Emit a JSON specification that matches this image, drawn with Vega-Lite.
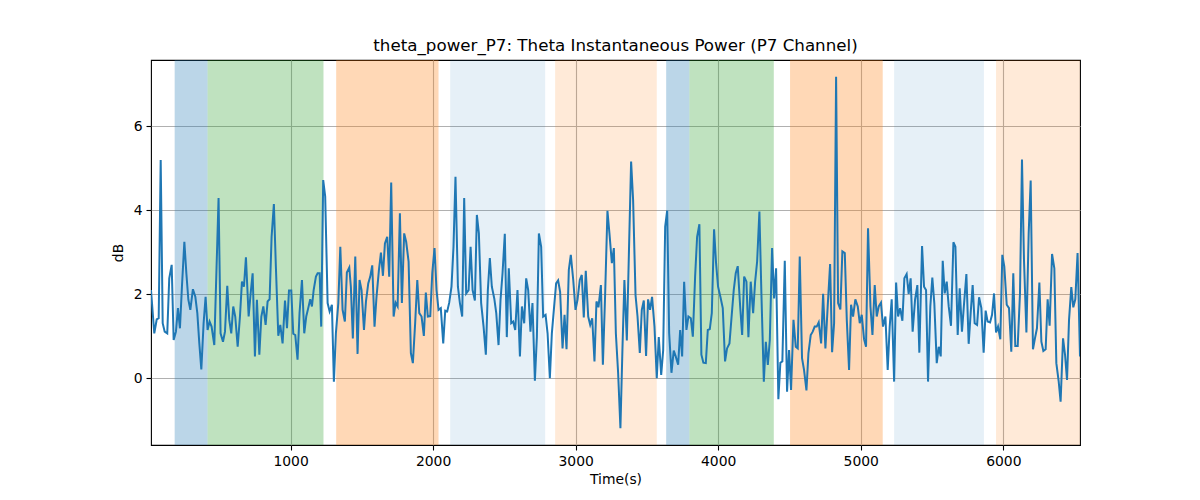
{
  "$schema": "https://vega.github.io/schema/vega-lite/v6.json",
  "width": 929,
  "height": 385,
  "autosize": {"type": "none"},
  "padding": {"left": 151, "top": 60, "right": 120, "bottom": 55},
  "title": {
    "text": "theta_power_P7: Theta Instantaneous Power (P7 Channel)",
    "font": "DejaVu Sans",
    "fontSize": 16.7,
    "fontWeight": "normal",
    "color": "black",
    "anchor": "middle",
    "baseline": "alphabetic",
    "offset": -8
  },
  "config": {
    "view": {"stroke": "black", "strokeWidth": 1.1},
    "axis": {
      "domain": false,
      "grid": true,
      "gridColor": "#b0b0b0",
      "gridWidth": 1.1,
      "tickColor": "black",
      "tickSize": 5,
      "tickWidth": 1.1,
      "labelFont": "DejaVu Sans",
      "labelFontSize": 13.9,
      "labelColor": "black",
      "labelPadding": 4,
      "titleFont": "DejaVu Sans",
      "titleFontSize": 13.9,
      "titleFontWeight": "normal",
      "titleColor": "black"
    }
  },
  "datasets": {
    "bands": [
      {"start": 187, "end": 418, "segment": "A"},
      {"start": 418, "end": 1231, "segment": "B"},
      {"start": 1320, "end": 2038, "segment": "C"},
      {"start": 2120, "end": 2786, "segment": "D"},
      {"start": 2856, "end": 3569, "segment": "E"},
      {"start": 3635, "end": 3798, "segment": "A"},
      {"start": 3798, "end": 4390, "segment": "B"},
      {"start": 4504, "end": 5154, "segment": "C"},
      {"start": 5234, "end": 5864, "segment": "D"},
      {"start": 5949, "end": 6538, "segment": "E"}
    ],
    "series": [
      {"time": 21, "db": 2.10}, {"time": 44, "db": 1.07}, {"time": 61, "db": 1.40}, {"time": 75, "db": 1.43},
      {"time": 89, "db": 5.20}, {"time": 103, "db": 1.31}, {"time": 117, "db": 1.11}, {"time": 135, "db": 1.07},
      {"time": 149, "db": 2.38}, {"time": 166, "db": 2.70}, {"time": 180, "db": 0.91}, {"time": 196, "db": 1.11},
      {"time": 210, "db": 1.67}, {"time": 224, "db": 1.19}, {"time": 238, "db": 2.18}, {"time": 255, "db": 3.25},
      {"time": 269, "db": 2.50}, {"time": 283, "db": 1.87}, {"time": 297, "db": 1.63}, {"time": 315, "db": 2.12},
      {"time": 332, "db": 1.94}, {"time": 346, "db": 1.55}, {"time": 360, "db": 0.83}, {"time": 374, "db": 0.21},
      {"time": 390, "db": 1.31}, {"time": 404, "db": 1.94}, {"time": 418, "db": 1.15}, {"time": 432, "db": 1.35},
      {"time": 446, "db": 1.23}, {"time": 465, "db": 0.79}, {"time": 481, "db": 2.66}, {"time": 495, "db": 4.29},
      {"time": 509, "db": 1.07}, {"time": 526, "db": 0.87}, {"time": 540, "db": 1.11}, {"time": 556, "db": 2.20},
      {"time": 570, "db": 1.39}, {"time": 584, "db": 1.07}, {"time": 598, "db": 1.71}, {"time": 612, "db": 1.47},
      {"time": 629, "db": 0.75}, {"time": 645, "db": 1.47}, {"time": 659, "db": 2.30}, {"time": 673, "db": 2.18},
      {"time": 687, "db": 2.88}, {"time": 706, "db": 1.47}, {"time": 720, "db": 2.02}, {"time": 734, "db": 2.50},
      {"time": 750, "db": 0.52}, {"time": 764, "db": 1.87}, {"time": 781, "db": 0.56}, {"time": 795, "db": 1.47},
      {"time": 809, "db": 1.71}, {"time": 825, "db": 1.27}, {"time": 839, "db": 1.83}, {"time": 853, "db": 1.88},
      {"time": 867, "db": 3.37}, {"time": 883, "db": 4.15}, {"time": 897, "db": 2.66}, {"time": 914, "db": 1.01},
      {"time": 928, "db": 1.27}, {"time": 944, "db": 0.83}, {"time": 961, "db": 1.85}, {"time": 975, "db": 1.19},
      {"time": 989, "db": 2.09}, {"time": 1005, "db": 2.09}, {"time": 1019, "db": 1.06}, {"time": 1033, "db": 1.03},
      {"time": 1049, "db": 0.44}, {"time": 1063, "db": 1.55}, {"time": 1080, "db": 2.34},
      {"time": 1096, "db": 1.07}, {"time": 1110, "db": 1.47}, {"time": 1124, "db": 1.67}, {"time": 1138, "db": 1.88},
      {"time": 1150, "db": 1.71}, {"time": 1162, "db": 2.10}, {"time": 1178, "db": 2.42}, {"time": 1190, "db": 2.50},
      {"time": 1204, "db": 2.50}, {"time": 1215, "db": 1.23}, {"time": 1229, "db": 4.72}, {"time": 1243, "db": 4.33},
      {"time": 1260, "db": 1.79}, {"time": 1274, "db": 1.59}, {"time": 1290, "db": 1.75}, {"time": 1304, "db": -0.08},
      {"time": 1318, "db": 1.07}, {"time": 1335, "db": 1.79}, {"time": 1349, "db": 3.13}, {"time": 1365, "db": 1.63},
      {"time": 1381, "db": 1.35}, {"time": 1395, "db": 2.52}, {"time": 1412, "db": 2.64}, {"time": 1423, "db": 2.18},
      {"time": 1437, "db": 0.95}, {"time": 1454, "db": 2.90}, {"time": 1470, "db": 0.58}, {"time": 1484, "db": 2.34},
      {"time": 1498, "db": 2.10}, {"time": 1515, "db": 1.15}, {"time": 1529, "db": 1.83}, {"time": 1545, "db": 2.26},
      {"time": 1559, "db": 2.42}, {"time": 1573, "db": 2.69}, {"time": 1589, "db": 1.23}, {"time": 1603, "db": 1.94},
      {"time": 1620, "db": 2.58}, {"time": 1634, "db": 2.99}, {"time": 1648, "db": 2.44}, {"time": 1662, "db": 3.21},
      {"time": 1678, "db": 3.37}, {"time": 1692, "db": 2.42}, {"time": 1706, "db": 4.66}, {"time": 1723, "db": 1.47},
      {"time": 1737, "db": 1.80}, {"time": 1751, "db": 1.71}, {"time": 1767, "db": 3.93}, {"time": 1781, "db": 1.79},
      {"time": 1797, "db": 3.45}, {"time": 1811, "db": 3.25}, {"time": 1828, "db": 2.78}, {"time": 1844, "db": 0.60},
      {"time": 1858, "db": 0.36}, {"time": 1874, "db": 1.31}, {"time": 1889, "db": 2.34}, {"time": 1903, "db": 1.55},
      {"time": 1919, "db": 1.47}, {"time": 1935, "db": 1.01}, {"time": 1949, "db": 2.04}, {"time": 1963, "db": 1.47},
      {"time": 1980, "db": 1.48}, {"time": 1994, "db": 2.50}, {"time": 2010, "db": 3.10}, {"time": 2024, "db": 2.10},
      {"time": 2038, "db": 1.63}, {"time": 2054, "db": 1.67}, {"time": 2071, "db": 0.83}, {"time": 2085, "db": 1.61},
      {"time": 2099, "db": 1.59}, {"time": 2113, "db": 1.80}, {"time": 2129, "db": 2.18}, {"time": 2143, "db": 3.13},
      {"time": 2157, "db": 4.80},
      {"time": 2174, "db": 2.18}, {"time": 2188, "db": 1.79}, {"time": 2204, "db": 1.47}, {"time": 2218, "db": 4.29},
      {"time": 2232, "db": 2.02}, {"time": 2249, "db": 2.10}, {"time": 2263, "db": 3.13}, {"time": 2277, "db": 2.10},
      {"time": 2293, "db": 1.85}, {"time": 2307, "db": 3.89}, {"time": 2321, "db": 3.45}, {"time": 2337, "db": 1.79},
      {"time": 2354, "db": 1.23}, {"time": 2370, "db": 0.56}, {"time": 2384, "db": 2.10}, {"time": 2398, "db": 2.86},
      {"time": 2412, "db": 2.18}, {"time": 2429, "db": 1.90}, {"time": 2443, "db": 1.55}, {"time": 2459, "db": 0.79},
      {"time": 2473, "db": 1.87}, {"time": 2487, "db": 2.50}, {"time": 2503, "db": 3.44}, {"time": 2517, "db": 0.98},
      {"time": 2531, "db": 2.62}, {"time": 2548, "db": 1.31}, {"time": 2562, "db": 1.35}, {"time": 2576, "db": 1.15},
      {"time": 2592, "db": 2.10}, {"time": 2609, "db": 0.52}, {"time": 2623, "db": 1.71}, {"time": 2639, "db": 1.31},
      {"time": 2653, "db": 2.38}, {"time": 2667, "db": 2.10}, {"time": 2683, "db": 1.11}, {"time": 2697, "db": 1.79},
      {"time": 2714, "db": -0.06}, {"time": 2728, "db": 0.99}, {"time": 2742, "db": 3.45}, {"time": 2758, "db": 3.13},
      {"time": 2772, "db": 1.47}, {"time": 2789, "db": 1.51}, {"time": 2803, "db": 1.07}, {"time": 2819, "db": 0.00},
      {"time": 2833, "db": 1.07}, {"time": 2847, "db": 1.63}, {"time": 2863, "db": 2.26}, {"time": 2877, "db": 2.33},
      {"time": 2891, "db": 2.06}, {"time": 2908, "db": 0.71}, {"time": 2922, "db": 1.51}, {"time": 2936, "db": 0.69},
      {"time": 2952, "db": 2.58}, {"time": 2966, "db": 2.94}, {"time": 2983, "db": 2.34}, {"time": 2999, "db": 1.63},
      {"time": 3013, "db": 1.87}, {"time": 3029, "db": 2.34}, {"time": 3043, "db": 2.46}, {"time": 3057, "db": 1.45},
      {"time": 3071, "db": 2.56}, {"time": 3088, "db": 1.47}, {"time": 3102, "db": 1.27}, {"time": 3116, "db": 1.43},
      {"time": 3132, "db": 0.40}, {"time": 3146, "db": 1.83}, {"time": 3160, "db": 1.69}, {"time": 3177, "db": 2.22},
      {"time": 3191, "db": 0.32}, {"time": 3207, "db": 2.02}, {"time": 3223, "db": 3.99}, {"time": 3237, "db": 3.45},
      {"time": 3254, "db": 2.74}, {"time": 3268, "db": 3.10}, {"time": 3282, "db": 1.07}, {"time": 3298, "db": 0.12},
      {"time": 3314, "db": -1.19}, {"time": 3328, "db": 0.67}, {"time": 3342, "db": 2.34}, {"time": 3359, "db": 0.90},
      {"time": 3373, "db": 2.90}, {"time": 3389, "db": 5.16}, {"time": 3403, "db": 4.25}, {"time": 3420, "db": 1.98},
      {"time": 3434, "db": 1.47}, {"time": 3450, "db": 0.60}, {"time": 3464, "db": 1.63}, {"time": 3478, "db": 1.85},
      {"time": 3494, "db": 0.53}, {"time": 3508, "db": 1.88}, {"time": 3522, "db": 1.63}, {"time": 3536, "db": 1.94},
      {"time": 3553, "db": 1.23}, {"time": 3569, "db": 0.00}, {"time": 3583, "db": 0.98}, {"time": 3600, "db": 0.08},
      {"time": 3614, "db": 0.67}, {"time": 3628, "db": 3.61}, {"time": 3642, "db": 3.99}, {"time": 3656, "db": 1.07},
      {"time": 3672, "db": 0.13}, {"time": 3688, "db": 0.66}, {"time": 3702, "db": 0.52}, {"time": 3719, "db": 0.32},
      {"time": 3733, "db": 1.15}, {"time": 3747, "db": 0.52}, {"time": 3761, "db": 2.30}, {"time": 3777, "db": 1.15},
      {"time": 3791, "db": 1.47}, {"time": 3808, "db": 1.43}, {"time": 3822, "db": 0.99}, {"time": 3838, "db": 2.42},
      {"time": 3852, "db": 3.37}, {"time": 3868, "db": 3.67}, {"time": 3882, "db": 0.56}, {"time": 3896, "db": 0.37},
      {"time": 3913, "db": 0.36}, {"time": 3927, "db": 1.15}, {"time": 3941, "db": 1.17}, {"time": 3955, "db": 1.55},
      {"time": 3971, "db": 3.55}, {"time": 3985, "db": 2.74}, {"time": 3999, "db": 2.18}, {"time": 4016, "db": 1.93},
      {"time": 4032, "db": 1.67}, {"time": 4048, "db": 0.40}, {"time": 4062, "db": 0.71}, {"time": 4079, "db": 0.83},
      {"time": 4093, "db": 1.43}, {"time": 4109, "db": 2.10}, {"time": 4123, "db": 2.50}, {"time": 4137, "db": 2.67},
      {"time": 4154, "db": 1.71}, {"time": 4168, "db": 1.03}, {"time": 4182, "db": 2.42}, {"time": 4198, "db": 2.30},
      {"time": 4212, "db": 0.98}, {"time": 4228, "db": 2.30}, {"time": 4245, "db": 1.55}, {"time": 4259, "db": 2.30},
      {"time": 4273, "db": 2.78}, {"time": 4289, "db": 3.97}, {"time": 4303, "db": 2.02}, {"time": 4320, "db": -0.08},
      {"time": 4334, "db": 0.87}, {"time": 4348, "db": 0.32},
      {"time": 4362, "db": 0.91}, {"time": 4378, "db": 3.10}, {"time": 4392, "db": 1.90}, {"time": 4406, "db": 2.62},
      {"time": 4422, "db": -0.50}, {"time": 4436, "db": 0.37}, {"time": 4450, "db": 0.40}, {"time": 4467, "db": 2.80},
      {"time": 4483, "db": -0.32}, {"time": 4497, "db": 0.67}, {"time": 4511, "db": -0.28}, {"time": 4528, "db": 1.39},
      {"time": 4544, "db": 0.75}, {"time": 4558, "db": 0.71}, {"time": 4572, "db": 2.90}, {"time": 4588, "db": 0.48},
      {"time": 4602, "db": 0.20}, {"time": 4619, "db": -0.29}, {"time": 4633, "db": 0.60}, {"time": 4649, "db": 1.03},
      {"time": 4663, "db": 1.11}, {"time": 4677, "db": 1.23}, {"time": 4691, "db": 1.23}, {"time": 4705, "db": 1.33},
      {"time": 4722, "db": 0.83}, {"time": 4736, "db": 2.01}, {"time": 4752, "db": 0.71}, {"time": 4768, "db": 1.71},
      {"time": 4785, "db": 2.72}, {"time": 4799, "db": 0.62}, {"time": 4813, "db": 1.31}, {"time": 4827, "db": 7.18},
      {"time": 4841, "db": 1.79}, {"time": 4857, "db": 1.64}, {"time": 4871, "db": 3.02}, {"time": 4888, "db": 2.98},
      {"time": 4902, "db": 1.39}, {"time": 4918, "db": 0.20}, {"time": 4932, "db": 1.75}, {"time": 4946, "db": 1.47},
      {"time": 4962, "db": 1.88}, {"time": 4979, "db": 1.71}, {"time": 4993, "db": 1.31}, {"time": 5007, "db": 1.51},
      {"time": 5023, "db": 0.93}, {"time": 5037, "db": 0.75}, {"time": 5051, "db": 3.57}, {"time": 5068, "db": 1.71},
      {"time": 5082, "db": 1.03}, {"time": 5098, "db": 2.22}, {"time": 5112, "db": 1.47}, {"time": 5126, "db": 1.71},
      {"time": 5142, "db": 1.80}, {"time": 5156, "db": 1.23}, {"time": 5173, "db": 1.47}, {"time": 5189, "db": 0.20},
      {"time": 5203, "db": 1.23}, {"time": 5217, "db": 1.88}, {"time": 5234, "db": -0.08}, {"time": 5248, "db": 2.28},
      {"time": 5262, "db": 1.47}, {"time": 5276, "db": 1.67}, {"time": 5292, "db": 1.37}, {"time": 5306, "db": 2.38},
      {"time": 5322, "db": 2.48}, {"time": 5336, "db": 2.01}, {"time": 5350, "db": 2.38}, {"time": 5364, "db": 1.11},
      {"time": 5381, "db": 1.87}, {"time": 5397, "db": 2.22}, {"time": 5411, "db": 0.61},
      {"time": 5430, "db": 3.15}, {"time": 5444, "db": 2.18}, {"time": 5458, "db": 2.10}, {"time": 5472, "db": -0.08},
      {"time": 5488, "db": 1.71}, {"time": 5502, "db": 2.40}, {"time": 5516, "db": 1.79}, {"time": 5533, "db": 0.36},
      {"time": 5547, "db": 0.75}, {"time": 5561, "db": 0.52}, {"time": 5575, "db": 2.80}, {"time": 5589, "db": 2.02},
      {"time": 5603, "db": 2.30}, {"time": 5617, "db": 1.71}, {"time": 5633, "db": 1.25}, {"time": 5650, "db": 3.24},
      {"time": 5664, "db": 3.13}, {"time": 5680, "db": 1.03}, {"time": 5694, "db": 2.14}, {"time": 5710, "db": 1.11},
      {"time": 5724, "db": 1.75}, {"time": 5741, "db": 2.48}, {"time": 5757, "db": 0.82}, {"time": 5771, "db": 1.55},
      {"time": 5785, "db": 2.22}, {"time": 5799, "db": 1.31}, {"time": 5816, "db": 1.27}, {"time": 5830, "db": 1.93},
      {"time": 5846, "db": 1.67}, {"time": 5862, "db": 0.61}, {"time": 5876, "db": 1.61}, {"time": 5890, "db": 1.35},
      {"time": 5907, "db": 1.33}, {"time": 5921, "db": 1.51}, {"time": 5935, "db": 2.02}, {"time": 5949, "db": 1.09},
      {"time": 5963, "db": 1.23}, {"time": 5979, "db": 0.93}, {"time": 5993, "db": 2.94}, {"time": 6007, "db": 2.66},
      {"time": 6024, "db": 1.75}, {"time": 6040, "db": 1.67}, {"time": 6056, "db": 0.63}, {"time": 6070, "db": 2.50},
      {"time": 6084, "db": 0.77}, {"time": 6101, "db": 0.77}, {"time": 6117, "db": 2.02}, {"time": 6131, "db": 5.21},
      {"time": 6145, "db": 2.82}, {"time": 6162, "db": 1.09}, {"time": 6178, "db": 3.45}, {"time": 6192, "db": 4.71},
      {"time": 6208, "db": 0.69}, {"time": 6222, "db": 0.95}, {"time": 6236, "db": 1.19}, {"time": 6253, "db": 2.28},
      {"time": 6267, "db": 0.87}, {"time": 6281, "db": 0.65}, {"time": 6297, "db": 0.69}, {"time": 6311, "db": 1.88},
      {"time": 6325, "db": 1.25}, {"time": 6342, "db": 2.96}, {"time": 6358, "db": 2.62}, {"time": 6372, "db": 0.36},
      {"time": 6388, "db": -0.06}, {"time": 6402, "db": -0.56}, {"time": 6419, "db": 0.95}, {"time": 6433, "db": 0.56},
      {"time": 6447, "db": -0.04}, {"time": 6461, "db": 1.39}, {"time": 6477, "db": 2.17}, {"time": 6491, "db": 1.69},
      {"time": 6505, "db": 1.88}, {"time": 6521, "db": 2.98}, {"time": 6538, "db": 0.52}
    ]
  },
  "layer": [
    {
      "data": {"name": "bands"},
      "mark": {"type": "rect"},
      "encoding": {
        "x": {
          "field": "start",
          "type": "quantitative",
          "scale": {"domain": [21, 6538], "nice": false, "zero": false},
          "axis": {"title": "Time(s)", "values": [1000, 2000, 3000, 4000, 5000, 6000], "format": "d", "titlePadding": 5}
        },
        "x2": {"field": "end"},
        "color": {
          "field": "segment",
          "type": "nominal",
          "scale": {"domain": ["A", "B", "C", "D", "E"], "range": ["#1f77b4", "#2ca02c", "#ff7f0e", "#1f77b4", "#ff7f0e"]},
          "legend": null
        },
        "opacity": {
          "field": "segment",
          "type": "ordinal",
          "scale": {"type": "ordinal", "domain": ["A", "B", "C", "D", "E"], "range": [0.3, 0.3, 0.3, 0.11, 0.16]},
          "legend": null
        }
      }
    },
    {
      "data": {"name": "series"},
      "mark": {"type": "line", "color": "#1f77b4", "strokeWidth": 2, "clip": true},
      "encoding": {
        "x": {"field": "time", "type": "quantitative"},
        "y": {
          "field": "db",
          "type": "quantitative",
          "scale": {"domain": [-1.59, 7.58], "nice": false, "zero": false},
          "axis": {"title": "dB", "values": [0, 2, 4, 6], "titlePadding": 8}
        }
      }
    }
  ]
}
